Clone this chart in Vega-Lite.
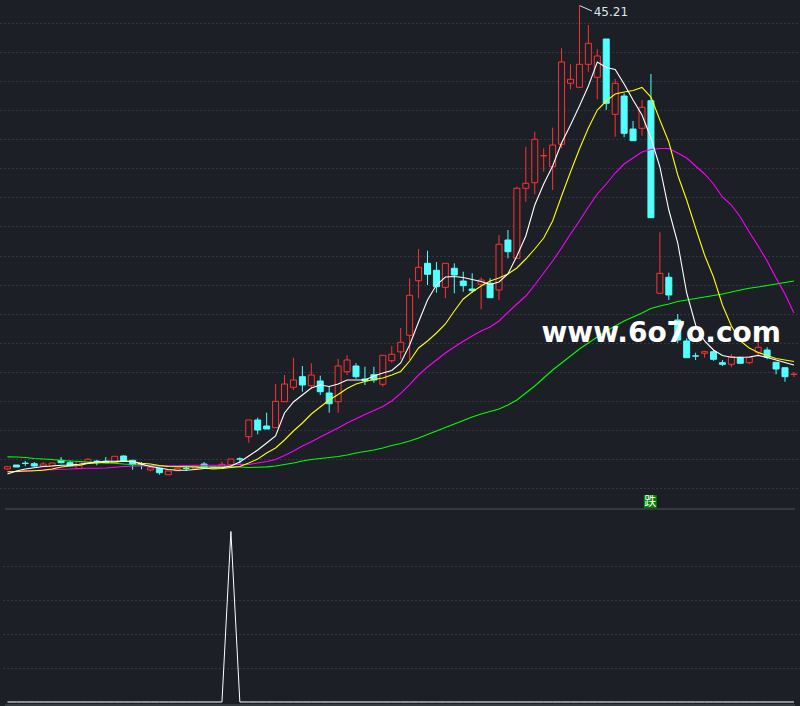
{
  "$schema": "https://vega.github.io/schema/vega-lite/v6.json",
  "background": "#1c1f26",
  "padding": 0,
  "autosize": {"type": "none"},
  "width": 800,
  "height": 706,
  "config": {"view": {"stroke": null}},
  "datasets": {
    "k": [
      {"i":0,"o":12.76,"h":12.97,"l":12.69,"c":12.92,"m5":12.41,"m10":12.57,"m20":12.55,"m60":13.61},
      {"i":1,"o":13.04,"h":13.04,"l":12.90,"c":12.90,"m5":12.62,"m10":12.59,"m20":12.57,"m60":13.60},
      {"i":2,"o":13.17,"h":13.32,"l":12.97,"c":13.15,"m5":12.76,"m10":12.62,"m20":12.61,"m60":13.57},
      {"i":3,"o":13.13,"h":13.25,"l":12.92,"c":12.97,"m5":12.85,"m10":12.64,"m20":12.64,"m60":13.50},
      {"i":4,"o":12.97,"h":13.25,"l":12.94,"c":13.11,"m5":12.94,"m10":12.67,"m20":12.71,"m60":13.46},
      {"i":5,"o":12.99,"h":13.18,"l":12.99,"c":13.18,"m5":12.97,"m10":12.76,"m20":12.71,"m60":13.43},
      {"i":6,"o":13.37,"h":13.60,"l":13.16,"c":13.20,"m5":13.02,"m10":12.90,"m20":12.74,"m60":13.36},
      {"i":7,"o":13.20,"h":13.34,"l":12.99,"c":12.99,"m5":13.04,"m10":12.97,"m20":12.76,"m60":13.32},
      {"i":8,"o":12.78,"h":13.27,"l":12.78,"c":13.27,"m5":13.09,"m10":13.01,"m20":12.80,"m60":13.29},
      {"i":9,"o":13.16,"h":13.53,"l":13.16,"c":13.44,"m5":13.18,"m10":13.15,"m20":12.81,"m60":13.25},
      {"i":10,"o":13.31,"h":13.39,"l":13.02,"c":13.29,"m5":13.25,"m10":13.18,"m20":12.81,"m60":13.22},
      {"i":11,"o":13.30,"h":13.60,"l":13.20,"c":13.20,"m5":13.30,"m10":13.23,"m20":12.83,"m60":13.18},
      {"i":12,"o":13.20,"h":13.65,"l":13.20,"c":13.65,"m5":13.30,"m10":13.25,"m20":12.88,"m60":13.16},
      {"i":13,"o":13.67,"h":13.72,"l":13.34,"c":13.34,"m5":13.32,"m10":13.30,"m20":12.94,"m60":13.11},
      {"i":14,"o":13.37,"h":13.39,"l":12.71,"c":13.06,"m5":13.29,"m10":13.29,"m20":12.95,"m60":13.08},
      {"i":15,"o":13.12,"h":13.25,"l":12.74,"c":13.10,"m5":13.09,"m10":13.16,"m20":12.97,"m60":13.04},
      {"i":16,"o":12.69,"h":12.85,"l":12.60,"c":12.85,"m5":12.94,"m10":13.11,"m20":12.97,"m60":13.01},
      {"i":17,"o":12.81,"h":12.86,"l":12.36,"c":12.50,"m5":12.83,"m10":13.01,"m20":12.99,"m60":12.97},
      {"i":18,"o":12.36,"h":12.62,"l":12.36,"c":12.62,"m5":12.73,"m10":12.94,"m20":12.99,"m60":12.95},
      {"i":19,"o":12.64,"h":12.83,"l":12.64,"c":12.81,"m5":12.67,"m10":12.92,"m20":12.99,"m60":12.94},
      {"i":20,"o":12.82,"h":12.99,"l":12.62,"c":12.80,"m5":12.67,"m10":12.92,"m20":13.01,"m60":12.92},
      {"i":21,"o":12.78,"h":13.00,"l":12.78,"c":12.97,"m5":12.73,"m10":12.90,"m20":13.02,"m60":12.92},
      {"i":22,"o":13.11,"h":13.25,"l":12.85,"c":12.85,"m5":12.80,"m10":12.83,"m20":13.02,"m60":12.92},
      {"i":23,"o":12.83,"h":12.97,"l":12.80,"c":12.92,"m5":12.85,"m10":12.76,"m20":13.02,"m60":12.92},
      {"i":24,"o":12.85,"h":13.27,"l":12.85,"c":13.09,"m5":12.85,"m10":12.80,"m20":13.02,"m60":12.92},
      {"i":25,"o":13.06,"h":13.46,"l":13.06,"c":13.46,"m5":12.97,"m10":12.87,"m20":13.04,"m60":12.92},
      {"i":26,"o":13.47,"h":13.58,"l":13.16,"c":13.45,"m5":13.25,"m10":12.94,"m20":13.09,"m60":12.90},
      {"i":27,"o":15.02,"h":16.19,"l":14.60,"c":16.19,"m5":13.67,"m10":13.18,"m20":13.08,"m60":12.87},
      {"i":28,"o":16.19,"h":16.35,"l":15.19,"c":15.49,"m5":14.09,"m10":13.46,"m20":13.18,"m60":12.88},
      {"i":29,"o":15.77,"h":16.70,"l":15.56,"c":15.56,"m5":14.58,"m10":13.88,"m20":13.29,"m60":12.91},
      {"i":30,"o":15.65,"h":18.71,"l":15.65,"c":17.50,"m5":15.07,"m10":14.23,"m20":13.43,"m60":12.97},
      {"i":31,"o":17.47,"h":19.34,"l":17.47,"c":18.71,"m5":16.68,"m10":14.79,"m20":13.71,"m60":13.08},
      {"i":32,"o":18.48,"h":20.55,"l":18.29,"c":18.99,"m5":17.45,"m10":15.42,"m20":14.02,"m60":13.18},
      {"i":33,"o":19.22,"h":19.97,"l":18.17,"c":18.64,"m5":17.94,"m10":15.98,"m20":14.37,"m60":13.32},
      {"i":34,"o":18.59,"h":20.16,"l":18.36,"c":19.34,"m5":18.43,"m10":16.61,"m20":14.67,"m60":13.43},
      {"i":35,"o":18.92,"h":19.29,"l":17.94,"c":18.17,"m5":18.64,"m10":17.10,"m20":15.00,"m60":13.50},
      {"i":36,"o":18.08,"h":18.50,"l":16.70,"c":17.33,"m5":18.54,"m10":17.59,"m20":15.32,"m60":13.57},
      {"i":37,"o":17.47,"h":20.46,"l":16.70,"c":19.97,"m5":18.71,"m10":17.98,"m20":15.63,"m60":13.64},
      {"i":38,"o":19.57,"h":20.72,"l":19.34,"c":20.39,"m5":18.99,"m10":18.40,"m20":15.98,"m60":13.74},
      {"i":39,"o":19.97,"h":20.16,"l":19.08,"c":19.22,"m5":18.99,"m10":18.71,"m20":16.27,"m60":13.88},
      {"i":40,"o":19.06,"h":19.92,"l":18.64,"c":18.94,"m5":18.99,"m10":18.89,"m20":16.58,"m60":13.99},
      {"i":41,"o":19.36,"h":19.92,"l":18.80,"c":18.99,"m5":19.27,"m10":19.03,"m20":16.86,"m60":14.09},
      {"i":42,"o":18.69,"h":20.72,"l":18.52,"c":20.72,"m5":19.48,"m10":19.13,"m20":17.14,"m60":14.23},
      {"i":43,"o":20.34,"h":21.37,"l":20.20,"c":20.79,"m5":19.66,"m10":19.34,"m20":17.52,"m60":14.41},
      {"i":44,"o":20.96,"h":22.63,"l":20.44,"c":21.63,"m5":20.18,"m10":19.59,"m20":18.05,"m60":14.55},
      {"i":45,"o":22.12,"h":26.11,"l":20.39,"c":24.92,"m5":21.44,"m10":20.32,"m20":18.67,"m60":14.72},
      {"i":46,"o":25.94,"h":28.16,"l":24.71,"c":26.88,"m5":23.05,"m10":21.23,"m20":19.34,"m60":14.93},
      {"i":47,"o":27.16,"h":28.04,"l":25.64,"c":26.39,"m5":24.59,"m10":21.72,"m20":19.90,"m60":15.18},
      {"i":48,"o":26.67,"h":27.25,"l":25.10,"c":25.52,"m5":25.64,"m10":22.28,"m20":20.39,"m60":15.42},
      {"i":49,"o":25.48,"h":27.16,"l":24.73,"c":27.16,"m5":26.20,"m10":22.91,"m20":20.88,"m60":15.67},
      {"i":50,"o":26.81,"h":27.16,"l":25.06,"c":26.34,"m5":26.24,"m10":23.82,"m20":21.30,"m60":15.91},
      {"i":51,"o":25.92,"h":26.57,"l":25.17,"c":25.59,"m5":26.17,"m10":24.66,"m20":21.70,"m60":16.16},
      {"i":52,"o":25.36,"h":26.46,"l":25.10,"c":25.24,"m5":26.03,"m10":25.15,"m20":22.07,"m60":16.40},
      {"i":53,"o":25.69,"h":26.18,"l":23.94,"c":25.99,"m5":25.89,"m10":25.57,"m20":22.42,"m60":16.61},
      {"i":54,"o":25.76,"h":26.11,"l":24.75,"c":24.75,"m5":25.68,"m10":25.92,"m20":22.70,"m60":16.79},
      {"i":55,"o":25.29,"h":29.14,"l":24.59,"c":28.49,"m5":25.85,"m10":26.13,"m20":23.12,"m60":16.96},
      {"i":56,"o":28.79,"h":29.49,"l":27.51,"c":27.97,"m5":26.41,"m10":26.41,"m20":23.72,"m60":17.24},
      {"i":57,"o":27.51,"h":32.52,"l":27.51,"c":32.41,"m5":27.67,"m10":26.83,"m20":24.31,"m60":17.59},
      {"i":58,"o":32.41,"h":35.32,"l":31.47,"c":32.76,"m5":29.07,"m10":27.46,"m20":24.87,"m60":18.08},
      {"i":59,"o":32.80,"h":36.37,"l":31.99,"c":35.84,"m5":31.24,"m10":28.16,"m20":25.64,"m60":18.57},
      {"i":60,"o":34.68,"h":35.21,"l":33.57,"c":34.70,"m5":32.71,"m10":28.93,"m20":26.48,"m60":19.13},
      {"i":61,"o":33.92,"h":36.65,"l":32.29,"c":35.44,"m5":33.97,"m10":30.12,"m20":27.32,"m60":19.69},
      {"i":62,"o":35.49,"h":42.21,"l":35.21,"c":41.25,"m5":35.58,"m10":31.87,"m20":28.23,"m60":20.18},
      {"i":63,"o":39.76,"h":41.09,"l":39.34,"c":40.04,"m5":36.84,"m10":33.55,"m20":29.21,"m60":20.67},
      {"i":64,"o":39.48,"h":45.21,"l":39.48,"c":41.09,"m5":38.17,"m10":35.16,"m20":30.12,"m60":21.16},
      {"i":65,"o":41.09,"h":43.84,"l":40.57,"c":42.56,"m5":39.57,"m10":36.63,"m20":31.10,"m60":21.58},
      {"i":66,"o":40.18,"h":42.14,"l":38.64,"c":41.67,"m5":41.25,"m10":37.89,"m20":32.01,"m60":22.00},
      {"i":67,"o":42.86,"h":42.86,"l":37.89,"c":38.36,"m5":40.87,"m10":38.52,"m20":32.71,"m60":22.42},
      {"i":68,"o":37.59,"h":40.06,"l":36.02,"c":39.76,"m5":40.73,"m10":39.01,"m20":33.48,"m60":22.77},
      {"i":69,"o":38.87,"h":39.06,"l":35.98,"c":36.26,"m5":39.71,"m10":39.15,"m20":34.11,"m60":23.12},
      {"i":70,"o":36.56,"h":37.12,"l":35.74,"c":35.74,"m5":38.59,"m10":39.26,"m20":34.53,"m60":23.40},
      {"i":71,"o":36.61,"h":38.59,"l":36.09,"c":38.08,"m5":37.54,"m10":39.47,"m20":34.95,"m60":23.68},
      {"i":72,"o":38.54,"h":40.41,"l":30.35,"c":30.35,"m5":35.93,"m10":38.80,"m20":35.13,"m60":24.00},
      {"i":73,"o":25.06,"h":29.33,"l":25.06,"c":26.46,"m5":33.90,"m10":37.19,"m20":35.20,"m60":24.17},
      {"i":74,"o":26.18,"h":26.50,"l":24.59,"c":24.94,"m5":30.89,"m10":35.65,"m20":35.20,"m60":24.31},
      {"i":75,"o":23.19,"h":23.61,"l":21.58,"c":21.79,"m5":28.58,"m10":33.34,"m20":34.88,"m60":24.49},
      {"i":76,"o":21.72,"h":21.91,"l":20.55,"c":20.55,"m5":25.08,"m10":31.59,"m20":34.53,"m60":24.59},
      {"i":77,"o":20.68,"h":20.90,"l":20.39,"c":20.66,"m5":22.84,"m10":29.63,"m20":33.97,"m60":24.70},
      {"i":78,"o":20.86,"h":21.04,"l":20.55,"c":20.97,"m5":21.72,"m10":27.74,"m20":33.41,"m60":24.80},
      {"i":79,"o":20.97,"h":21.09,"l":20.34,"c":20.44,"m5":21.09,"m10":26.20,"m20":32.71,"m60":24.91},
      {"i":80,"o":20.20,"h":20.39,"l":19.97,"c":20.09,"m5":20.71,"m10":24.24,"m20":31.80,"m60":25.01},
      {"i":81,"o":20.09,"h":20.81,"l":19.88,"c":20.62,"m5":20.58,"m10":22.77,"m20":31.24,"m60":25.15},
      {"i":82,"o":20.55,"h":20.62,"l":20.16,"c":20.16,"m5":20.58,"m10":21.72,"m20":30.40,"m60":25.29},
      {"i":83,"o":20.20,"h":20.58,"l":20.09,"c":20.58,"m5":20.60,"m10":21.23,"m20":29.35,"m60":25.41},
      {"i":84,"o":20.93,"h":22.21,"l":20.74,"c":21.28,"m5":20.71,"m10":20.92,"m20":28.37,"m60":25.50},
      {"i":85,"o":21.09,"h":21.28,"l":20.44,"c":20.58,"m5":20.57,"m10":20.71,"m20":27.32,"m60":25.61},
      {"i":86,"o":20.23,"h":20.23,"l":19.39,"c":19.76,"m5":20.39,"m10":20.50,"m20":26.13,"m60":25.71},
      {"i":87,"o":19.85,"h":19.85,"l":18.87,"c":19.22,"m5":20.22,"m10":20.39,"m20":25.01,"m60":25.82},
      {"i":88,"o":19.38,"h":19.55,"l":19.20,"c":19.40,"m5":20.04,"m10":20.29,"m20":23.68,"m60":25.92}
    ],
    "sig": [
      {"i":0,"v":0},{"i":1,"v":0},{"i":2,"v":0},{"i":3,"v":0},{"i":4,"v":0},{"i":5,"v":0},{"i":6,"v":0},{"i":7,"v":0},{"i":8,"v":0},{"i":9,"v":0},
      {"i":10,"v":0},{"i":11,"v":0},{"i":12,"v":0},{"i":13,"v":0},{"i":14,"v":0},{"i":15,"v":0},{"i":16,"v":0},{"i":17,"v":0},{"i":18,"v":0},{"i":19,"v":0},
      {"i":20,"v":0},{"i":21,"v":0},{"i":22,"v":0},{"i":23,"v":0},{"i":24,"v":0},{"i":25,"v":1},{"i":26,"v":0},{"i":27,"v":0},{"i":28,"v":0},{"i":29,"v":0},
      {"i":30,"v":0},{"i":31,"v":0},{"i":32,"v":0},{"i":33,"v":0},{"i":34,"v":0},{"i":35,"v":0},{"i":36,"v":0},{"i":37,"v":0},{"i":38,"v":0},{"i":39,"v":0},
      {"i":40,"v":0},{"i":41,"v":0},{"i":42,"v":0},{"i":43,"v":0},{"i":44,"v":0},{"i":45,"v":0},{"i":46,"v":0},{"i":47,"v":0},{"i":48,"v":0},{"i":49,"v":0},
      {"i":50,"v":0},{"i":51,"v":0},{"i":52,"v":0},{"i":53,"v":0},{"i":54,"v":0},{"i":55,"v":0},{"i":56,"v":0},{"i":57,"v":0},{"i":58,"v":0},{"i":59,"v":0},
      {"i":60,"v":0},{"i":61,"v":0},{"i":62,"v":0},{"i":63,"v":0},{"i":64,"v":0},{"i":65,"v":0},{"i":66,"v":0},{"i":67,"v":0},{"i":68,"v":0},{"i":69,"v":0},
      {"i":70,"v":0},{"i":71,"v":0},{"i":72,"v":0},{"i":73,"v":0},{"i":74,"v":0},{"i":75,"v":0},{"i":76,"v":0},{"i":77,"v":0},{"i":78,"v":0},{"i":79,"v":0},
      {"i":80,"v":0},{"i":81,"v":0},{"i":82,"v":0},{"i":83,"v":0},{"i":84,"v":0},{"i":85,"v":0},{"i":86,"v":0},{"i":87,"v":0},{"i":88,"v":0}
    ]
  },
  "encoding": {
    "x": {"field": "i", "type": "quantitative", "scale": {"domain": [-0.276, 88.12], "nice": false, "zero": false}, "axis": null}
  },
  "resolve": {"scale": {"y": "independent"}, "axis": {"y": "independent"}},
  "layer": [
    {
      "data": {"name": "k"},
      "layer": [
        {
          "mark": {"type": "rule", "strokeWidth": 1},
          "encoding": {
            "y": {
              "field": "l", "type": "quantitative",
              "scale": {"domain": [-3.83, 45.59], "nice": false, "zero": false},
              "axis": {
                "values": [43.98, 41.946, 39.911, 37.877, 35.843, 33.808, 31.774, 29.74, 27.705, 25.671, 23.636, 21.602, 19.568, 17.533, 15.499, 13.464, 11.43],
                "grid": true, "gridColor": "#4a4e57", "gridDash": [1, 3], "gridWidth": 1,
                "labels": false, "ticks": false, "domain": false, "title": null
              }
            },
            "y2": {"field": "h"},
            "color": {"condition": {"test": "datum.c >= datum.o", "value": "#ff3232"}, "value": "#54ffff"}
          }
        },
        {
          "mark": {"type": "bar", "width": 6, "strokeWidth": 1},
          "encoding": {
            "y": {"field": "o", "type": "quantitative"},
            "y2": {"field": "c"},
            "fill": {"condition": {"test": "datum.c >= datum.o", "value": "#1c1f26"}, "value": "#54ffff"},
            "stroke": {"condition": {"test": "datum.c >= datum.o", "value": "#ff3232"}, "value": "#54ffff"}
          }
        },
        {"mark": {"type": "line", "color": "#00ff00", "strokeWidth": 1.1}, "encoding": {"y": {"field": "m60", "type": "quantitative"}}},
        {"mark": {"type": "line", "color": "#ff00ff", "strokeWidth": 1.1}, "encoding": {"y": {"field": "m20", "type": "quantitative"}}},
        {"mark": {"type": "line", "color": "#ffff00", "strokeWidth": 1.1}, "encoding": {"y": {"field": "m10", "type": "quantitative"}}},
        {"mark": {"type": "line", "color": "#ffffff", "strokeWidth": 1.1}, "encoding": {"y": {"field": "m5", "type": "quantitative"}}},
        {
          "data": {"values": [{"i": 64.05, "p": 45.19}, {"i": 65.4, "p": 44.82}]},
          "mark": {"type": "line", "color": "#dce6f0", "strokeWidth": 1},
          "encoding": {"y": {"field": "p", "type": "quantitative"}}
        },
        {
          "data": {"values": [{"i": 65.6, "p": 44.77, "t": "45.21"}]},
          "mark": {"type": "text", "align": "left", "baseline": "middle", "font": "DejaVu Sans", "fontSize": 12, "color": "#dce6f0"},
          "encoding": {"y": {"field": "p", "type": "quantitative"}, "text": {"field": "t"}}
        },
        {
          "data": {"values": [{"i": 71.93, "p": 10.485}]},
          "mark": {"type": "square", "size": 169, "filled": true, "color": "#008000", "opacity": 1},
          "encoding": {"y": {"field": "p", "type": "quantitative"}}
        },
        {
          "data": {"values": [{"i": 71.93, "p": 10.485, "t": "跌"}]},
          "mark": {"type": "text", "align": "center", "baseline": "middle", "font": "Noto Sans CJK SC", "fontSize": 12, "color": "#ffffff"},
          "encoding": {"y": {"field": "p", "type": "quantitative"}, "text": {"field": "t"}}
        },
        {
          "data": {"values": [{"i": 73.15, "p": 21.65, "t": "www.6o7o.com"}]},
          "mark": {"type": "text", "align": "center", "baseline": "alphabetic", "font": "DejaVu Sans", "fontSize": 28, "fontWeight": "bold", "color": "#ffffff"},
          "encoding": {"y": {"field": "p", "type": "quantitative"}, "text": {"field": "t"}}
        }
      ]
    },
    {
      "data": {"name": "sig"},
      "layer": [
        {
          "mark": {"type": "line", "color": "#ffffff", "strokeWidth": 1},
          "encoding": {
            "y": {
              "field": "v", "type": "quantitative",
              "scale": {"domain": [-0.0235, 4.117], "nice": false, "zero": false},
              "axis": {
                "orient": "right",
                "values": [0.2, 0.4, 0.6, 0.8],
                "grid": true, "gridColor": "#4a4e57", "gridDash": [1, 3], "gridWidth": 1,
                "labels": false, "ticks": false, "domain": false, "title": null
              }
            }
          }
        },
        {
          "data": {"values": [{"i": -0.276, "v": 1.132}, {"i": 88.12, "v": 1.132}]},
          "mark": {"type": "line", "color": "#50545c", "strokeWidth": 1},
          "encoding": {"y": {"field": "v", "type": "quantitative"}}
        },
        {
          "data": {"values": [{"i": -0.276, "v": -0.0176}, {"i": 88.12, "v": -0.0176}]},
          "mark": {"type": "line", "color": "#50545c", "strokeWidth": 1},
          "encoding": {"y": {"field": "v", "type": "quantitative"}}
        }
      ]
    }
  ]
}
